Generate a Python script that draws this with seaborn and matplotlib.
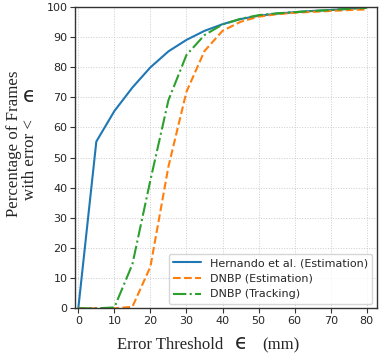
import numpy as np
import pandas as pd
import matplotlib
matplotlib.use("Agg")
import matplotlib.pyplot as plt
import seaborn as sns

# Error thresholds (mm) and cumulative percentage of frames per method
thresholds = [0, 5, 10, 15, 20, 25, 30, 35, 40, 45, 50, 55, 60, 65, 70, 75, 80]
hernando_est = [0, 55.3, 65.4, 73.2, 79.9, 85.2, 89.0, 92.0, 94.2, 95.9, 97.0,
                97.7, 98.2, 98.6, 98.9, 99.3, 99.8]
dnbp_est = [0, 0, 0, 0.5, 13.8, 47.0, 71.8, 85.3, 92.0, 95.0, 96.7,
            97.5, 98.0, 98.3, 98.6, 98.9, 99.1]
dnbp_track = [0, 0, 0.3, 14.6, 42.5, 69.0, 84.0, 90.6, 94.1, 96.0, 97.2,
              97.8, 98.2, 98.6, 98.9, 99.3, 99.6]
series_names = ["Hernando et al. (Estimation)", "DNBP (Estimation)", "DNBP (Tracking)"]

W, H = 381, 354


def build_frame():
    """Long-form table for seaborn."""
    rows = []
    for name, vals in zip(series_names, [hernando_est, dnbp_est, dnbp_track]):
        for t, v in zip(thresholds, vals):
            rows.append({"threshold": t, "pct": v, "method": name})
    return pd.DataFrame(rows)


def px(x, y):
    # pixel position (from top-left) -> figure fraction
    return x / W, 1 - y / H


def plot_curves(df):
    sns.set_style("ticks")
    fig = plt.figure(figsize=(W / 100, H / 100), dpi=100)
    ax = fig.add_axes([0.197, 0.129, 0.792, 0.852])

    palette = ["#1f77b4", "#ff7f0e", "#2ca02c"]
    styles = ["-", "--", "-."]
    for name, color, ls in zip(series_names, palette, styles):
        sub = df[df["method"] == name]
        sns.lineplot(data=sub, x="threshold", y="pct", color=color, ax=ax,
                     label=name, linewidth=1.5, linestyle=ls)

    ax.set_xlim(-0.9, 82.8)
    ax.set_ylim(0, 100)
    ax.set_xticks(range(0, 81, 10))
    ax.set_yticks(range(0, 101, 10))
    ax.set_xlabel("")
    ax.set_ylabel("")
    ax.tick_params(labelsize=8, length=3.5, color="#333333", pad=2)
    ax.grid(True, linestyle=":", color="#cccccc", linewidth=0.7)
    for s in ax.spines.values():
        s.set_color("#333333")
        s.set_linewidth(1.0)

    # axis labels, with a large epsilon as in the original
    serif = "Liberation Serif"
    eps = dict(family="DejaVu Sans", fontsize=15, ha="center", va="baseline")
    fig.text(*px(117, 349), "Error Threshold", family=serif, fontsize=12,
             ha="left", va="baseline")
    fig.text(*px(241, 349), "\u03f5", **eps)
    fig.text(*px(262, 349), "(mm)", family=serif, fontsize=12,
             ha="left", va="baseline")

    rot = dict(family=serif, fontsize=12.2, rotation=90, rotation_mode="anchor",
               va="baseline")
    fig.text(*px(18.5, 144), "Percentage of Frames", ha="center", **rot)
    fig.text(*px(34, 200), "with error <", ha="left", **rot)
    fig.text(*px(29.5, 102), "\u03f5", **eps)

    leg = ax.legend(loc="lower right", fontsize=8, frameon=True, fancybox=True,
                    borderaxespad=0.4, handlelength=2.5)
    leg.get_frame().set_edgecolor("#cccccc")

    fig.savefig("out.png", dpi=100)


def main():
    df = build_frame()
    plot_curves(df)


if __name__ == "__main__":
    main()
